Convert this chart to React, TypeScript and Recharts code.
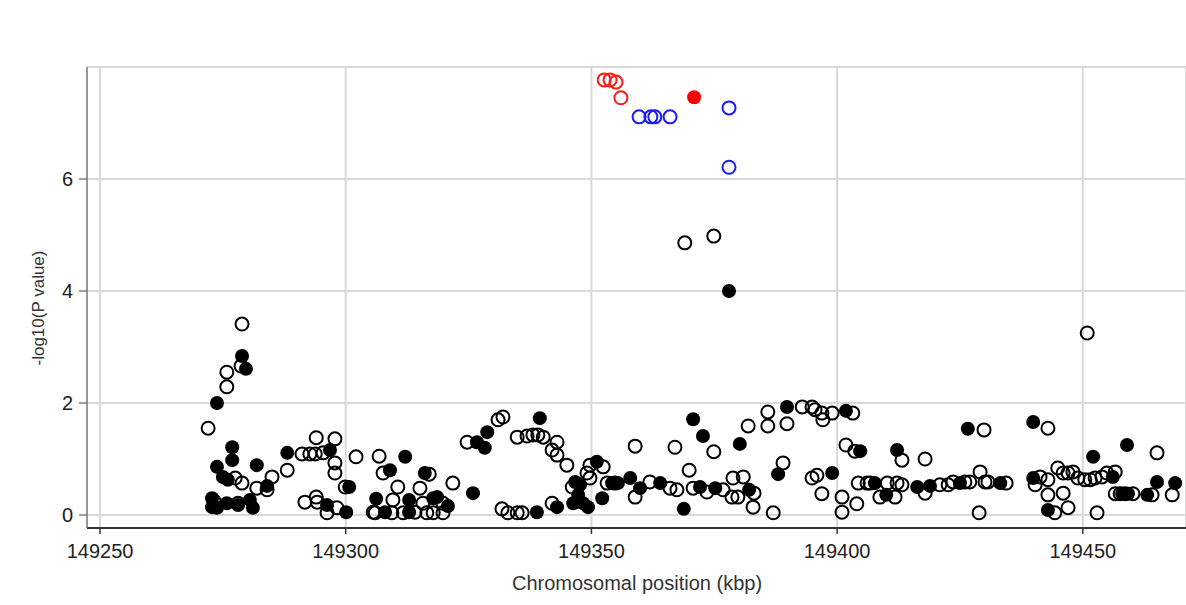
import React from "react";
import {
  CartesianGrid,
  Label,
  Scatter,
  ScatterChart,
  XAxis,
  YAxis,
} from "recharts";

// [position kbp, -log10 p]
const topRedOpen = [
  [149352.6, 7.77],
  [149353.8, 7.77],
  [149355.0, 7.73],
  [149356.0, 7.45],
];

const topRedFilled = [[149370.9, 7.46]];

const blueOpen = [
  [149359.7, 7.11],
  [149362.1, 7.11],
  [149362.9, 7.11],
  [149366.0, 7.11],
  [149378.0, 7.27],
  [149378.0, 6.21],
];

const blackFilled = [
  [149273.8, 2.0], [149278.9, 2.84], [149279.7, 2.61], [149276.9, 1.21],
  [149276.9, 0.98], [149273.8, 0.86], [149275.0, 0.68], [149276.0, 0.63],
  [149281.9, 0.89], [149284.0, 0.52], [149288.1, 1.11], [149296.8, 1.16],
  [149300.7, 0.5], [149272.8, 0.3], [149273.8, 0.13], [149275.8, 0.21],
  [149278.1, 0.18], [149280.5, 0.27], [149281.1, 0.13], [149272.8, 0.14],
  [149296.2, 0.18], [149300.1, 0.05], [149312.1, 1.04], [149309.0, 0.8],
  [149316.1, 0.75], [149325.9, 0.39], [149306.2, 0.29], [149308.0, 0.05],
  [149312.9, 0.27], [149312.9, 0.05], [149317.8, 0.3], [149318.6, 0.32],
  [149320.8, 0.16], [149326.7, 1.3], [149328.8, 1.48], [149328.3, 1.2],
  [149339.5, 1.73], [149338.9, 0.05], [149343.0, 0.14], [149351.1, 0.95],
  [149346.7, 0.59], [149347.7, 0.54], [149347.3, 0.36], [149348.3, 0.21],
  [149349.3, 0.14], [149346.3, 0.21], [149352.2, 0.3], [149354.2, 0.57],
  [149355.4, 0.57], [149357.9, 0.66], [149359.9, 0.48], [149364.0, 0.57],
  [149368.8, 0.11], [149370.7, 1.71], [149372.7, 1.41], [149372.1, 0.5],
  [149375.2, 0.48], [149380.2, 1.27], [149382.1, 0.45], [149388.0, 0.73],
  [149389.8, 1.93], [149399.0, 0.75], [149401.8, 1.86], [149404.7, 1.14],
  [149407.7, 0.57], [149410.0, 0.36], [149412.2, 1.16], [149416.3, 0.5],
  [149418.9, 0.52], [149425.0, 0.57], [149426.6, 1.54], [149433.2, 0.57],
  [149439.9, 1.66], [149439.9, 0.66], [149442.9, 0.09], [149452.1, 1.04],
  [149456.1, 0.68], [149459.0, 1.25], [149458.0, 0.38], [149459.2, 0.38],
  [149463.1, 0.36], [149465.1, 0.59], [149468.8, 0.57], [149378.0, 4.0],
];

const blackOpen = [
  [149278.9, 3.41], [149275.8, 2.55], [149275.8, 2.29], [149272.0, 1.55],
  [149278.7, 2.66], [149277.5, 0.66], [149278.9, 0.57], [149281.9, 0.48],
  [149285.0, 0.68], [149284.0, 0.45], [149288.1, 0.8], [149291.1, 1.09],
  [149292.7, 1.09], [149293.8, 1.09], [149295.4, 1.11], [149294.0, 1.38],
  [149297.8, 1.36], [149297.8, 0.93], [149297.8, 0.75], [149302.1, 1.04],
  [149299.9, 0.5], [149291.7, 0.23], [149294.0, 0.32], [149294.2, 0.23],
  [149296.2, 0.04], [149298.2, 0.13], [149278.1, 0.21], [149273.2, 0.25],
  [149306.8, 1.05], [149307.6, 0.75], [149310.6, 0.5], [149315.1, 0.48],
  [149317.0, 0.73], [149321.8, 0.57], [149305.6, 0.05], [149306.0, 0.04],
  [149309.6, 0.27], [149309.4, 0.04], [149311.7, 0.04], [149314.1, 0.05],
  [149315.7, 0.21], [149316.5, 0.04], [149317.8, 0.04], [149319.8, 0.21],
  [149319.8, 0.04], [149324.7, 1.3], [149331.0, 1.7], [149332.0, 1.75],
  [149334.9, 1.39], [149336.9, 1.41], [149338.1, 1.43], [149339.1, 1.43],
  [149340.2, 1.39], [149343.0, 1.3], [149342.0, 1.16], [149343.0, 1.07],
  [149345.0, 0.89], [149331.8, 0.11], [149333.0, 0.04], [149334.9, 0.04],
  [149335.9, 0.04], [149342.0, 0.21], [149352.4, 0.86], [149349.7, 0.89],
  [149349.1, 0.75], [149349.7, 0.66], [149346.1, 0.5], [149353.2, 0.57],
  [149354.8, 0.57], [149358.9, 0.32], [149361.9, 0.59], [149366.0, 0.48],
  [149367.4, 0.45], [149358.9, 1.23], [149367.0, 1.21], [149369.9, 0.8],
  [149374.9, 1.13], [149370.7, 0.48], [149373.5, 0.41], [149376.8, 0.45],
  [149378.8, 0.66], [149380.9, 0.68], [149378.6, 0.32], [149379.8, 0.32],
  [149383.1, 0.39], [149382.9, 0.14], [149381.9, 1.59], [149385.9, 1.84],
  [149385.9, 1.59], [149389.8, 1.63], [149392.9, 1.93], [149394.9, 1.93],
  [149395.5, 1.88], [149396.9, 1.82], [149397.1, 1.7], [149399.0, 1.82],
  [149403.2, 1.82], [149389.0, 0.93], [149387.0, 0.04], [149394.9, 0.66],
  [149395.9, 0.71], [149396.9, 0.38], [149401.0, 0.32], [149401.0, 0.05],
  [149404.0, 0.2], [149401.8, 1.25], [149403.6, 1.14], [149404.3, 0.57],
  [149406.1, 0.57], [149406.7, 0.57], [149408.7, 0.32], [149411.8, 0.32],
  [149410.2, 0.57], [149412.2, 0.57], [149413.2, 0.54], [149413.2, 0.98],
  [149417.9, 1.0], [149417.9, 0.39], [149420.9, 0.54], [149422.6, 0.54],
  [149423.6, 0.59], [149426.0, 0.59], [149427.0, 0.59], [149429.1, 0.77],
  [149430.1, 0.59], [149430.7, 0.59], [149434.4, 0.57], [149428.9, 0.04],
  [149429.9, 1.52], [149442.9, 1.55], [149465.1, 1.11], [149450.9, 3.25],
  [149441.3, 0.68], [149442.9, 0.63], [149444.9, 0.84], [149446.0, 0.75],
  [149447.0, 0.75], [149448.0, 0.77], [149449.0, 0.66], [149450.4, 0.63],
  [149451.5, 0.63], [149452.5, 0.66], [149453.9, 0.68], [149454.9, 0.75],
  [149456.6, 0.77], [149440.3, 0.54], [149442.9, 0.36], [149446.0, 0.39],
  [149444.3, 0.04], [149447.0, 0.13], [149452.9, 0.04], [149456.6, 0.38],
  [149457.6, 0.38], [149458.6, 0.38], [149460.2, 0.38], [149464.1, 0.36],
  [149468.2, 0.36], [149369.0, 4.86], [149374.9, 4.98],
];

const xTicks = [149250, 149300, 149350, 149400, 149450];
const yTicks = [0, 2, 4, 6];

const toRows = (pts: number[][]) => pts.map(([x, y]) => ({ x, y }));

const ring = (color: string) => (p: any) =>
  <circle cx={p.cx} cy={p.cy} r={6.5} fill="none" stroke={color} strokeWidth={2} />;

const dot = (color: string) => (p: any) =>
  <circle cx={p.cx} cy={p.cy} r={7} fill={color} stroke="none" />;

const font = "'Liberation Sans', Arial, sans-serif";

export default function App() {
  return (
    <div style={{ position: "absolute", left: 0, top: 0, background: "#fff", fontFamily: font }}>
      <ScatterChart
        width={1186}
        height={605}
        margin={{ top: 67, right: 0, bottom: 0, left: 0 }}
      >
        <CartesianGrid stroke="#d9d9d9" strokeWidth={2} />
        <XAxis
          type="number"
          dataKey="x"
          domain={[149247.35, 149471]}
          ticks={xTicks}
          allowDataOverflow
          height={77}
          tickSize={6}
          tickMargin={10}
          stroke="#333"
          axisLine={{ stroke: "#333", strokeWidth: 2 }}
          tickLine={{ stroke: "#333", strokeWidth: 1.5 }}
          tick={{ fill: "#222", fontSize: 20, fontFamily: font }}
        >
          <Label
            content={() => (
              <text x={637} y={590} textAnchor="middle" fill="#333" fontSize={20} fontFamily={font}>
                Chromosomal position (kbp)
              </text>
            )}
          />
        </XAxis>
        <YAxis
          type="number"
          dataKey="y"
          domain={[-0.232, 8.0]}
          ticks={yTicks}
          allowDataOverflow
          width={87}
          tickSize={8}
          tickMargin={6}
          axisLine={{ stroke: "#808080", strokeWidth: 1.5 }}
          tickLine={{ stroke: "#808080", strokeWidth: 1.5 }}
          tick={{ fill: "#222", fontSize: 20, fontFamily: font }}
        >
          <Label
            content={() => (
              <text
                x={40}
                y={308}
                transform="rotate(-90 40 308)"
                textAnchor="middle"
                dominantBaseline="middle"
                fill="#333"
                fontSize={17}
                fontFamily={font}
              >
                -log10(P value)
              </text>
            )}
          />
        </YAxis>
        <Scatter data={toRows(blackFilled)} shape={dot("#000")} isAnimationActive={false} />
        <Scatter data={toRows(blackOpen)} shape={ring("#000")} isAnimationActive={false} />
        <Scatter data={toRows(blueOpen)} shape={ring("#1a1aff")} isAnimationActive={false} />
        <Scatter data={toRows(topRedOpen)} shape={ring("#ff1a1a")} isAnimationActive={false} />
        <Scatter data={toRows(topRedFilled)} shape={dot("#ff0000")} isAnimationActive={false} />
      </ScatterChart>
    </div>
  );
}
